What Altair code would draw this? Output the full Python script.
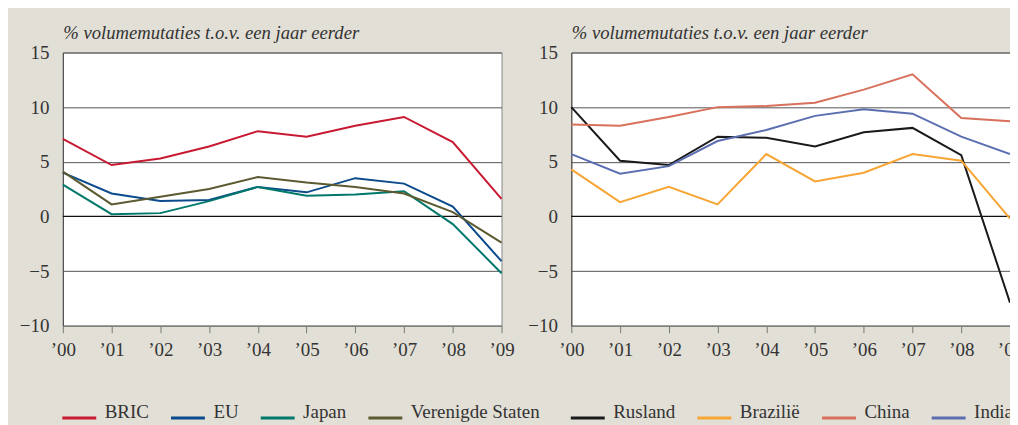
import altair as alt
import pandas as pd

jaren = ["’00", "’01", "’02", "’03", "’04", "’05", "’06", "’07", "’08", "’09"]

# Left panel
bric = [7.1, 4.7, 5.3, 6.4, 7.8, 7.3, 8.3, 9.1, 6.8, 1.6]
eu = [4.0, 2.1, 1.4, 1.5, 2.7, 2.2, 3.5, 3.0, 0.9, -4.1]
japan = [2.9, 0.2, 0.3, 1.4, 2.7, 1.9, 2.0, 2.3, -0.7, -5.2]
vs = [4.1, 1.1, 1.8, 2.5, 3.6, 3.1, 2.7, 2.1, 0.4, -2.4]

# Right panel
rusland = [10.0, 5.1, 4.7, 7.3, 7.2, 6.4, 7.7, 8.1, 5.6, -7.9]
brazilie = [4.3, 1.3, 2.7, 1.1, 5.7, 3.2, 4.0, 5.7, 5.1, -0.2]
china = [8.4, 8.3, 9.1, 10.0, 10.1, 10.4, 11.6, 13.0, 9.0, 8.7]
india = [5.7, 3.9, 4.6, 6.9, 7.9, 9.2, 9.8, 9.4, 7.3, 5.7]

left_names = ["BRIC", "EU", "Japan", "Verenigde Staten"]
left_colors = ["#c81932", "#0b4a8b", "#00786b", "#5b5a30"]
right_names = ["Rusland", "Brazilië", "China", "India"]
right_colors = ["#1a1a1a", "#f7a535", "#d8705c", "#5b6fb0"]

y_ticks = [-10, -5, 0, 5, 10, 15]
titel = "% volumemutaties t.o.v. een jaar eerder"

FONT = "Liberation Serif"
TXT = "#333333"


def frame(names, series):
    rows = []
    for n, vals in zip(names, series):
        for j, v in zip(jaren, vals):
            rows.append({"jaar": j, "reeks": n, "waarde": v})
    return pd.DataFrame(rows)


def panel(names, series, colors):
    df = frame(names, series)
    lines = alt.Chart(df).mark_line(strokeWidth=2).encode(
        x=alt.X("jaar:O", sort=jaren, scale=alt.Scale(type="point", padding=0),
                axis=alt.Axis(title=None, labelAngle=0, tickSize=7, tickColor="#777",
                              domainColor="#888", labelPadding=8, grid=False,
                              labelFont=FONT, labelFontSize=19, labelColor=TXT)),
        y=alt.Y("waarde:Q", scale=alt.Scale(domain=[-10, 15], nice=False),
                axis=alt.Axis(title=titel, titleAngle=0, titleX=0, titleY=-14,
                              titleAlign="left", titleBaseline="alphabetic",
                              titleFont=FONT, titleFontStyle="italic",
                              titleFontWeight="normal", titleFontSize=18.7,
                              titleColor=TXT,
                              values=y_ticks, ticks=False, labelPadding=14,
                              domainColor="#444", grid=True, gridColor="#555",
                              gridWidth=1, labelFont=FONT, labelFontSize=19,
                              labelColor=TXT)),
        color=alt.Color("reeks:N", scale=alt.Scale(domain=names, range=colors),
                        legend=alt.Legend(title=None, orient="none", legendX=-2,
                                          legendY=348, direction="horizontal",
                                          columns=4, gridAlign="none",
                                          symbolType="stroke",
                                          symbolStrokeWidth=3, symbolSize=1156,
                                          labelOffset=7, columnPadding=15,
                                          labelFont=FONT, labelFontSize=19,
                                          labelColor=TXT, labelBaseline="alphabetic")),
    )
    zero = alt.Chart(pd.DataFrame({"y": [0]})).mark_rule(color="#111", strokeWidth=1.4).encode(y="y:Q")
    return alt.layer(zero, lines).properties(width=440, height=274)


left = panel(left_names, [bric, eu, japan, vs], left_colors)
right = panel(right_names, [rusland, brazilie, china, india], right_colors)

chart = alt.hconcat(left, right, spacing=70, bounds="flush").resolve_scale(
    color="independent"
).properties(
    background="#e2dfd6",
    padding={"left": 10, "top": 14, "right": -14, "bottom": 0},
).configure_view(fill="white", stroke="#888", strokeWidth=1)

chart.save("out.html", embed_options={"renderer": "svg", "actions": False})
